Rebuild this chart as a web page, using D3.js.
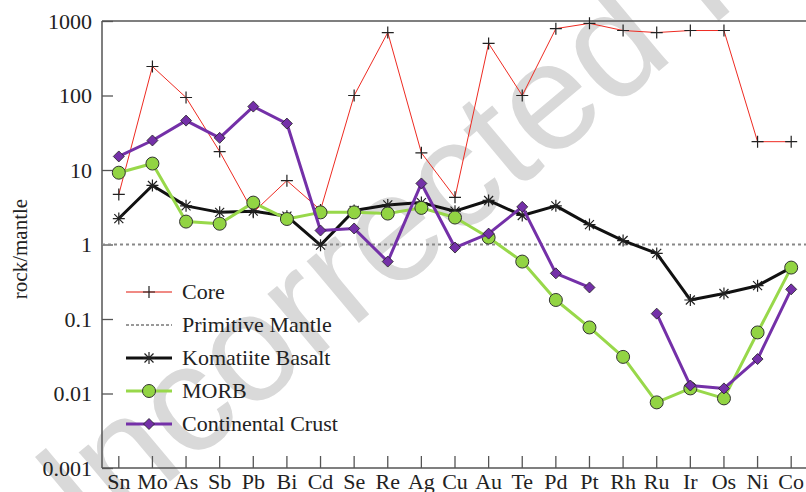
<!DOCTYPE html>
<html>
<head>
<meta charset="utf-8">
<script src="https://cdn.jsdelivr.net/npm/d3@7"></script>
<style>
  body { margin: 0; background: #fff; }
  svg { display: block; }
</style>
</head>
<body>
<div id="chart"></div>
<script>
// element categories along the x axis
var elements = ["Sn","Mo","As","Sb","Pb","Bi","Cd","Se","Re","Ag","Cu","Au","Te","Pd","Pt","Rh","Ru","Ir","Os","Ni","Co"];

// rock / primitive mantle ratios
var core       = [4.7, 245, 94, 17.7, 2.7, 7.2, 2.9, 100, 700, 17, 4.3, 500, 100, 790, 930, 745, 700, 745, 745, 24, 24];
var komatiite  = [2.23, 6.2, 3.3, 2.7, 2.8, 2.4, 0.98, 2.86, 3.4, 3.65, 2.8, 3.9, 2.45, 3.3, 1.85, 1.13, 0.76, 0.18, 0.22, 0.28, 0.49];
var morb       = [9.2, 12.2, 2.03, 1.9, 3.65, 2.2, 2.7, 2.7, 2.6, 3.1, 2.3, 1.24, 0.59, 0.18, 0.077, 0.031, 0.0076, 0.0117, 0.0086, 0.066, 0.49];
var crust      = [15.2, 24.9, 46, 27, 71, 42, 1.54, 1.64, 0.59, 6.6, 0.91, 1.4, 3.2, 0.41, 0.265, null, 0.118, 0.0128, 0.0117, 0.029, 0.25];

var yTicks = [0.001, 0.01, 0.1, 1, 10, 100, 1000];
var yTickLabels = ["0.001", "0.01", "0.1", "1", "10", "100", "1000"];
var legendNames = ["Core", "Primitive Mantle", "Komatiite Basalt", "MORB", "Continental Crust"];

var W = 806, H = 492;
var plotLeft = 102, plotRight = 808, plotTop = 21, plotBottom = 468;
var serif = "'Liberation Serif', 'Times New Roman', serif";

var svg = d3.select("#chart")
            .append("svg")
            .attr("width", W)
            .attr("height", H);

// watermark behind everything
svg.append("text")
   .text("Uncorrected Proof")
   .attr("transform", "translate(38,592) rotate(-40)")
   .attr("font-family", "'Liberation Sans', Arial, sans-serif")
   .attr("font-size", "153px")
   .attr("fill", "#d9d9d9");

var x = d3.scaleBand()
          .domain(elements)
          .range([plotLeft, plotRight])
          .paddingInner(0)
          .paddingOuter(0);

function cx(i) {
    return x(elements[i]) + x.bandwidth() / 2;
}

var y = d3.scaleLog()
          .domain([0.001, 1000])
          .range([plotBottom, plotTop]);

// axes (ticks pointing inward)
var yAxis = d3.axisLeft(y)
              .tickValues(yTicks)
              .tickFormat(function(d, i) { return yTickLabels[i]; })
              .tickSizeInner(-11)
              .tickSizeOuter(0)
              .tickPadding(10);

var gy = svg.append("g")
            .attr("transform", "translate(" + plotLeft + ",0)")
            .call(yAxis);

var xAxis = d3.axisBottom(x)
              .tickSizeInner(-12)
              .tickSizeOuter(0)
              .tickPadding(5);

var gx = svg.append("g")
            .attr("transform", "translate(0," + plotBottom + ")")
            .call(xAxis);

[gx, gy].forEach(function(g) {
    g.select(".domain").remove();
    g.selectAll(".tick line").attr("stroke", "#555").attr("stroke-width", 1.3);
    g.selectAll(".tick text")
     .attr("font-family", serif)
     .attr("font-size", "22px")
     .attr("fill", "#222");
});

// frame lines
svg.append("line")
   .attr("x1", plotLeft).attr("x2", W)
   .attr("y1", plotTop).attr("y2", plotTop)
   .attr("stroke", "#555").attr("stroke-width", 1.5);
svg.append("line")
   .attr("x1", plotLeft).attr("x2", W)
   .attr("y1", plotBottom).attr("y2", plotBottom)
   .attr("stroke", "#555").attr("stroke-width", 1.5);
svg.append("line")
   .attr("x1", plotLeft).attr("x2", plotLeft)
   .attr("y1", plotTop).attr("y2", plotBottom)
   .attr("stroke", "#555").attr("stroke-width", 1.5);

// y label
svg.append("text")
   .text("rock/mantle")
   .attr("transform", "translate(27,249) rotate(-90)")
   .attr("text-anchor", "middle")
   .attr("font-family", serif)
   .attr("font-size", "21px")
   .attr("fill", "#222");

// marker shapes
var plusPath = "M-6,0H6M0,-6V6";
var starPath = "M-6,0H6M0,-6V6M-4.5,-4.5L4.5,4.5M-4.5,4.5L4.5,-4.5";
var diamondPath = "M0,-5.5L5.5,0L0,5.5L-5.5,0Z";

var series = [
    { name: "Core", values: core, stroke: "#ee2b22", width: 1, marker: "plus" },
    { name: "Komatiite Basalt", values: komatiite, stroke: "#111", width: 3, marker: "star" },
    { name: "MORB", values: morb, stroke: "#98d84a", width: 3, marker: "circle" },
    { name: "Continental Crust", values: crust, stroke: "#7430a8", width: 3, marker: "diamond" }
];

var line = d3.line()
             .defined(function(d) { return d != null; })
             .x(function(d, i) { return cx(i); })
             .y(function(d) { return y(d); });

function drawMarker(g, type, px, py) {
    if (type == "plus") {
        g.append("path").attr("d", plusPath)
         .attr("transform", "translate(" + px + "," + py + ")")
         .attr("stroke", "#222").attr("stroke-width", 1.2).attr("fill", "none");
    } else if (type == "star") {
        g.append("path").attr("d", starPath)
         .attr("transform", "translate(" + px + "," + py + ")")
         .attr("stroke", "#222").attr("stroke-width", 1.2).attr("fill", "none");
    } else if (type == "circle") {
        g.append("circle").attr("cx", px).attr("cy", py).attr("r", 6.5)
         .attr("fill", "#92d443").attr("stroke", "#333").attr("stroke-width", 1);
    } else if (type == "diamond") {
        g.append("path").attr("d", diamondPath)
         .attr("transform", "translate(" + px + "," + py + ")")
         .attr("fill", "#7430a8").attr("stroke", "#222").attr("stroke-width", 0.8);
    }
}

// core first, then primitive mantle reference, then other series
function drawSeries(s) {
    var g = svg.append("g");
    g.append("path")
     .datum(s.values)
     .attr("d", line)
     .attr("fill", "none")
     .attr("stroke", s.stroke)
     .attr("stroke-width", s.width)
     .attr("stroke-linejoin", "round");
    s.values.forEach(function(v, i) {
        if (v != null) drawMarker(g, s.marker, cx(i), y(v));
    });
}

drawSeries(series[0]);

svg.append("line")
   .attr("x1", plotLeft).attr("x2", W)
   .attr("y1", y(1)).attr("y2", y(1))
   .attr("stroke", "#888")
   .attr("stroke-width", 2)
   .attr("stroke-dasharray", "3,3");

drawSeries(series[1]);
drawSeries(series[2]);
drawSeries(series[3]);

// legend
var legend = [
    { stroke: "#f08a84", width: 2, dash: null, marker: "plus" },
    { stroke: "#999", width: 2, dash: "3,2", marker: null },
    { stroke: "#111", width: 3, dash: null, marker: "star" },
    { stroke: "#98d84a", width: 3, dash: null, marker: "circle" },
    { stroke: "#7430a8", width: 3, dash: null, marker: "diamond" }
];

legend.forEach(function(l, i) {
    var ly = 292 + i * 33;
    var g = svg.append("g");
    g.append("line")
     .attr("x1", 126).attr("x2", 172)
     .attr("y1", ly).attr("y2", ly)
     .attr("stroke", l.stroke)
     .attr("stroke-width", l.width)
     .attr("stroke-dasharray", l.dash);
    if (l.marker) drawMarker(g, l.marker, 149, ly);
    g.append("text")
     .text(legendNames[i])
     .attr("x", 182)
     .attr("y", ly + 7)
     .attr("font-family", serif)
     .attr("font-size", "22px")
     .attr("fill", "#222");
});
</script>
</body>
</html>
